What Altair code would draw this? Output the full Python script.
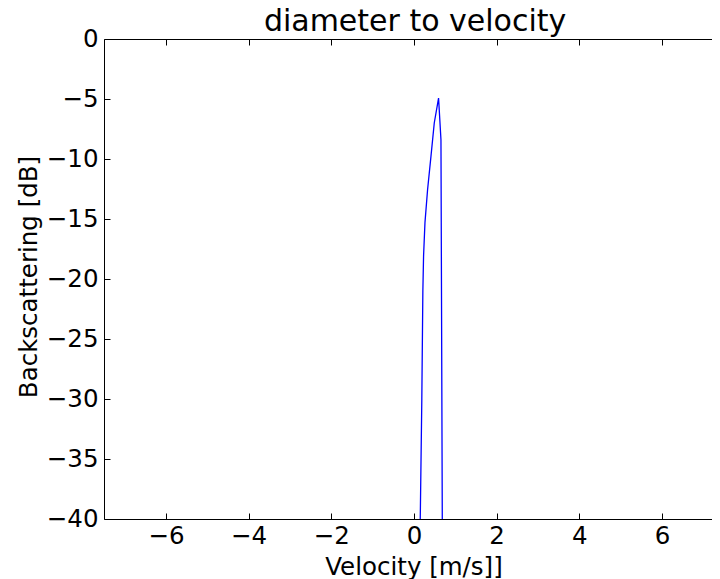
import altair as alt
import pandas as pd

# Data
velocity = [0.152, 0.190, 0.215, 0.232, 0.266, 0.329, 0.411, 0.491, 0.595, 0.653, 0.685]
backscatter_db = [-40.0, -30.0, -21.0, -18.1, -15.3, -12.56, -9.78, -7.0, -4.92, -8.4, -40.0]
x_ticks = [-6, -4, -2, 0, 2, 4, 6]
y_ticks = [0, -5, -10, -15, -20, -25, -30, -35, -40]

df = pd.DataFrame({"v": velocity, "db": backscatter_db})

W = 608
H = 480
FONT = "DejaVu Sans"
FS = 24.5

xscale = alt.Scale(domain=[-7.5, 7.211], nice=False, zero=False)
yscale = alt.Scale(domain=[-40, 0], nice=False, zero=False)

base = alt.Chart(df)

# main layer: line, labels, left & bottom spines
main = base.mark_line(color="#0000ff", strokeWidth=1.3, clip=True).encode(
    x=alt.X("v:Q", scale=xscale, axis=alt.Axis(
        orient="bottom", values=x_ticks, format="d", ticks=False, tickSize=0,
        domain=True, domainColor="black", domainWidth=1, grid=False,
        labelFont=FONT, labelFontSize=FS, labelColor="black", labelPadding=5,
        labelFlush=False, labelOverlap=False,
        title="Velocity [m/s]]", titleFont=FONT, titleFontSize=FS,
        titleFontWeight="normal", titleColor="black",
        titleX=309.5, titleY=55.5, titleBaseline="alphabetic")),
    y=alt.Y("db:Q", scale=yscale, axis=alt.Axis(
        orient="left", values=y_ticks, format="d", ticks=False, tickSize=0,
        domain=True, domainColor="black", domainWidth=1, grid=False,
        labelFont=FONT, labelFontSize=FS, labelColor="black", labelPadding=6,
        labelFlush=False, labelOverlap=False,
        title="Backscattering [dB]", titleFont=FONT, titleFontSize=FS,
        titleFontWeight="normal", titleColor="black",
        titleX=-68, titleY=237.5, titleBaseline="alphabetic", titleAngle=270)),
)

# inward ticks on bottom and left spines
ticks_bl = base.mark_line(strokeOpacity=0, clip=True).encode(
    x=alt.X("v:Q", scale=xscale, axis=alt.Axis(
        orient="top", offset=-H, values=x_ticks, labels=False, domain=False,
        ticks=True, tickSize=6, tickColor="black", tickWidth=1, grid=False, title="")),
    y=alt.Y("db:Q", scale=yscale, axis=alt.Axis(
        orient="right", offset=-W, values=y_ticks, labels=False, domain=False,
        ticks=True, tickSize=6, tickColor="black", tickWidth=1, grid=False, title="")),
)

# top spine with inward ticks, carrying the chart title
ticks_tr = base.mark_line(strokeOpacity=0, clip=True).encode(
    x=alt.X("v:Q", scale=xscale, axis=alt.Axis(
        orient="bottom", offset=-H, values=x_ticks, labels=False, domain=True,
        domainColor="black", domainWidth=1,
        ticks=True, tickSize=6, tickColor="black", tickWidth=1, grid=False,
        title="diameter to velocity", titleFont=FONT, titleFontSize=30,
        titleFontWeight="normal", titleColor="black",
        titleX=310.6, titleY=-9, titleBaseline="alphabetic")),
    y=alt.Y("db:Q", scale=yscale, axis=alt.Axis(
        orient="left", offset=-W, values=y_ticks, labels=False, domain=False,
        ticks=False, grid=False, title="")),
)

chart = alt.layer(main, ticks_bl, ticks_tr).resolve_axis(
    x="independent", y="independent"
).properties(
    width=W,
    height=H,
    autosize=alt.AutoSizeParams(type="none"),
    padding={"left": 96, "top": 31, "right": 0, "bottom": 60},
    background="white",
).configure_view(strokeWidth=0)

chart.save("out.html", embed_options={"renderer": "svg", "actions": False})
